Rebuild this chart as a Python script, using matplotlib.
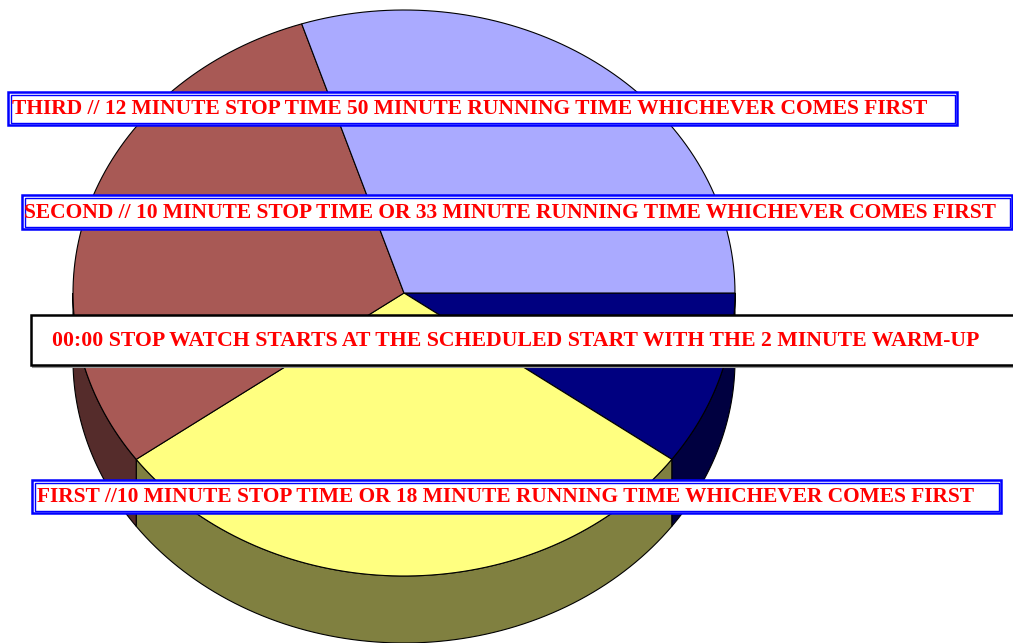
import numpy as np
import matplotlib
matplotlib.use("Agg")
from matplotlib import pyplot as plt
from matplotlib.patches import Polygon, Rectangle

# slice values, clockwise from 3 o'clock
values = [10, 30, 30, 30]
top_colors = ['#000080', '#FFFF80', '#A85955', '#AAAAFF']
side_colors = ['#000040', '#808040', '#552C2B', '#55557F']

labels = [
    "THIRD // 12 MINUTE STOP TIME 50 MINUTE RUNNING TIME WHICHEVER COMES FIRST",
    "SECOND // 10 MINUTE STOP TIME OR 33 MINUTE RUNNING TIME WHICHEVER COMES FIRST",
    "00:00 STOP WATCH STARTS AT THE SCHEDULED START WITH THE 2 MINUTE WARM-UP",
    "FIRST //10 MINUTE STOP TIME OR 18 MINUTE RUNNING TIME WHICHEVER COMES FIRST",
]

W, H = 1013, 643
fig = plt.figure(figsize=(W / 100, H / 100), dpi=100)
ax = fig.add_axes([0, 0, 1, 1])
ax.set_xlim(0, W)
ax.set_ylim(H, 0)
ax.axis('off')

cx, cy = 404, 293
rx, ry = 331, 283
depth = 67


def arc(a1, a2, n=80):
    t = np.radians(np.linspace(a1, a2, n))
    return cx + rx * np.cos(t), cy - ry * np.sin(t)


fracs = np.array(values, dtype=float) / sum(values)
edges = -360 * np.concatenate([[0], np.cumsum(fracs)])

# sides first (only the front half shows)
for i in range(len(values)):
    a1, a2 = edges[i], edges[i + 1]
    lo, hi = max(a2, -180), min(a1, 0)
    if hi <= lo:
        continue
    x, y = arc(hi, lo)
    pts = np.column_stack([np.concatenate([x, x[::-1]]),
                           np.concatenate([y, y[::-1] + depth])])
    ax.add_patch(Polygon(pts, closed=True, fc=side_colors[i], ec='black', lw=0.8))

# top faces
for i in range(len(values)):
    x, y = arc(edges[i], edges[i + 1])
    pts = np.column_stack([np.concatenate([[cx], x]), np.concatenate([[cy], y])])
    ax.add_patch(Polygon(pts, closed=True, fc=top_colors[i], ec='black', lw=0.8))

# text boxes: (x0, y0, x1, y1, text x, font size, style)
boxes = [
    (8, 92, 957, 125, 12, 15.45, 'blue'),
    (22, 195, 1012, 229, 24, 15.45, 'blue'),
    (31, 315, 1020, 365, 52, 15.7, 'black'),
    (32, 480, 1001, 513, 37, 15.4, 'blue'),
]

for (x0, y0, x1, y1, tx, fs, style), txt in zip(boxes, labels):
    if style == 'blue':
        ax.add_patch(Rectangle((x0, y0), x1 - x0, y1 - y0, fc='white',
                               ec='#0000FF', lw=1.8, zorder=5))
        ax.add_patch(Rectangle((x0 + 2.5, y0 + 2.5), x1 - x0 - 5, y1 - y0 - 5,
                               fc='none', ec='#0000FF', lw=1.0, zorder=5))
    else:
        ax.add_patch(Rectangle((x0 + 1.5, y0 + 1.5), x1 - x0, y1 - y0, fc='none',
                               ec='#999999', lw=1.5, zorder=4))
        ax.add_patch(Rectangle((x0, y0), x1 - x0, y1 - y0, fc='white',
                               ec='black', lw=1.8, zorder=5))
    ax.text(tx, (y0 + y1) / 2 + 1, txt, color='#FF0000', fontsize=fs,
            fontweight='bold', family='Liberation Serif',
            ha='left', va='center', zorder=6)

fig.savefig('out.png', dpi=100)
